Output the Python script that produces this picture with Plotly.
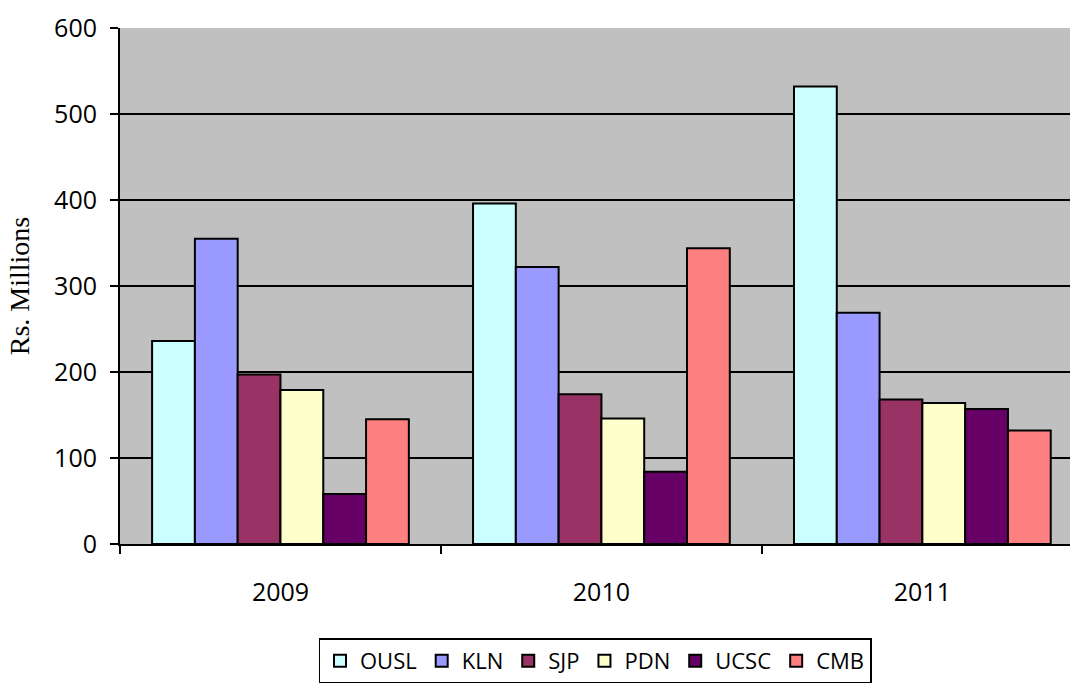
import plotly.graph_objects as go

years = ["2009", "2010", "2011"]
series_names = ["OUSL", "KLN", "SJP", "PDN", "UCSC", "CMB"]
ousl = [236, 396, 532]
kln = [355, 322, 269]
sjp = [197, 174, 168]
pdn = [179, 146, 164]
ucsc = [58, 84, 157]
cmb = [145, 344, 132]
colors = ["#CCFFFF", "#9999FF", "#993366", "#FFFFCC", "#660066", "#FF8080"]
y_ticks = [0, 100, 200, 300, 400, 500, 600]

values = [ousl, kln, sjp, pdn, ucsc, cmb]

fig = go.Figure()
for name, vals, col in zip(series_names, values, colors):
    fig.add_trace(go.Bar(
        x=years, y=vals, name=name,
        marker=dict(color=col, line=dict(color="black", width=2)),
    ))

fig.update_layout(
    width=1070, height=684,
    paper_bgcolor="white",
    plot_bgcolor="#C0C0C0",
    barmode="group",
    bargap=0.2,
    bargroupgap=0,
    margin=dict(l=120, r=0, t=28, b=140),
    showlegend=True,
    legend=dict(
        orientation="h",
        x=0.5, xanchor="center",
        y=-0.183, yanchor="top",
        font=dict(family="Open Sans", size=22, color="black"),
        bordercolor="black", borderwidth=1.5,
        bgcolor="white",
        itemwidth=30,
        traceorder="normal",
    ),
    xaxis=dict(
        type="category",
        range=[-0.5, 2.46],
        showline=True, linecolor="black", linewidth=2,
        ticks="outside", tickson="boundaries", ticklen=8, tickwidth=2, tickcolor="black",
        tickfont=dict(family="Open Sans", size=25, color="black"),
        ticklabelstandoff=25,
        showgrid=False,
    ),
    yaxis=dict(
        range=[0, 600],
        tickvals=y_ticks,
        showline=True, linecolor="black", linewidth=2,
        ticks="outside", ticklen=8, tickwidth=2, tickcolor="black",
        tickfont=dict(family="Open Sans", size=25, color="black"),
        ticklabelstandoff=8,
        showgrid=True, gridcolor="black", gridwidth=2,
        zeroline=False,
        title=dict(text="Rs. Millions", font=dict(family="Liberation Serif", size=28, color="black"), standoff=16),
    ),
)

fig.write_html(
    "out.html",
    config={"displayModeBar": False},
    post_script="document.body.style.margin='0';document.body.style.overflow='hidden';",
)
